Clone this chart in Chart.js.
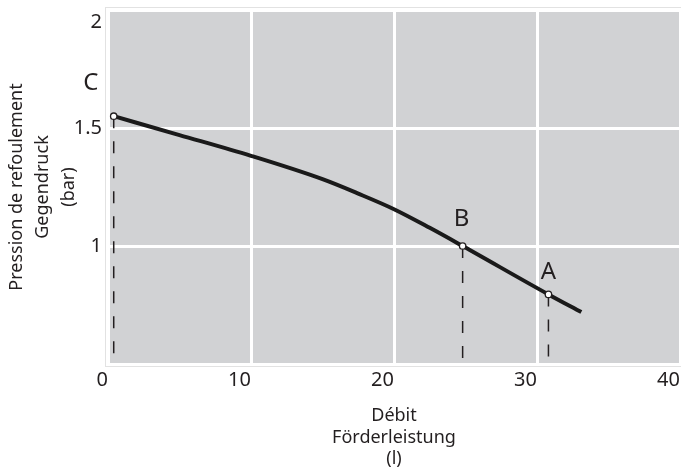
<!DOCTYPE html>
<html>
<head>
<meta charset="utf-8">
<script src="https://cdn.jsdelivr.net/npm/chart.js@4/dist/chart.umd.min.js"></script>
<style>
  html, body { margin: 0; padding: 0; background: #ffffff; }
  #wrap { width: 681px; height: 470px; position: relative; }
</style>
</head>
<body>
<div id="wrap"><canvas id="c" width="681" height="470"></canvas></div>
<script>
// ---- data ----
const flow = [0.4, 5, 10, 15, 17.5, 20, 22.5, 24.8, 30.8, 33.1];
const pressure = [1.55, 1.47, 1.382, 1.283, 1.222, 1.156, 1.077, 1.0, 0.795, 0.72];
const pointNames = ['C', 'B', 'A'];
const pointFlow = [0.4, 24.8, 30.8];
const pointPressure = [1.55, 1.0, 0.795];
const xTicks = [0, 10, 20, 30, 40];
const yTicks = [0.5, 1, 1.5, 2];
const yTickLabels = ['', '1', '1.5', '2'];
const xTitle = ['Débit', 'Förderleistung', '(l)'];
const yTitle = ['Pression de refoulement', 'Gegendruck', '(bar)'];

const FONT = "'Noto Sans', 'DejaVu Sans', sans-serif";
const TXT = '#231f20';

const curveData = flow.map((x, i) => ({ x: x, y: pressure[i] }));
const markerData = pointFlow.map((x, i) => ({ x: x, y: pointPressure[i] }));
const yMin = yTicks[0];

const dropDatasets = pointFlow.map((x, i) => ({
  type: 'line',
  data: [{ x: x, y: pointPressure[i] }, { x: x, y: yMin }],
  borderColor: '#231f20',
  borderWidth: 1.5,
  borderDash: [12, 13],
  pointRadius: 0,
  tension: 0,
  fill: false,
  order: 3
}));

const bgPlugin = {
  id: 'bg',
  beforeDraw(chart) {
    const { ctx, chartArea: a } = chart;
    ctx.save();
    ctx.fillStyle = '#d1d2d4';
    ctx.fillRect(a.left, a.top, a.right - a.left, a.bottom - a.top);
    ctx.strokeStyle = '#e2e2e2';
    ctx.lineWidth = 1;
    ctx.strokeRect(a.left - 2.5, a.top - 2.5, a.right - a.left + 5, a.bottom - a.top + 5);
    ctx.restore();
  }
};

const labelOffsets = [[-23, -33], [-1, -27], [0, -22]];
const letterPlugin = {
  id: 'letters',
  afterDatasetsDraw(chart) {
    const { ctx, scales } = chart;
    ctx.save();
    ctx.font = '24px ' + FONT;
    ctx.fillStyle = TXT;
    ctx.textAlign = 'center';
    ctx.textBaseline = 'middle';
    pointNames.forEach((n, i) => {
      const px = scales.x.getPixelForValue(pointFlow[i]);
      const py = scales.y.getPixelForValue(pointPressure[i]);
      ctx.fillText(n, px + labelOffsets[i][0], py + labelOffsets[i][1]);
    });
    ctx.restore();
  }
};

new Chart(document.getElementById('c'), {
  type: 'scatter',
  data: {
    datasets: [
      {
        type: 'scatter',
        data: markerData,
        pointRadius: 3.2,
        pointBackgroundColor: '#ffffff',
        pointBorderColor: '#231f20',
        pointBorderWidth: 1.3,
        order: 1
      },
      {
        type: 'line',
        data: curveData,
        borderColor: '#1a1a1a',
        borderWidth: 4,
        pointRadius: 0,
        cubicInterpolationMode: 'monotone',
        fill: false,
        order: 2
      },
      ...dropDatasets
    ]
  },
  options: {
    responsive: false,
    animation: false,
    layout: { autoPadding: false, padding: { top: 10, right: 1, left: 0, bottom: 0 } },
    plugins: {
      legend: { display: false },
      tooltip: { enabled: false }
    },
    scales: {
      x: {
        type: 'linear',
        min: xTicks[0],
        max: xTicks[xTicks.length - 1],
        afterBuildTicks: s => { s.ticks = xTicks.map(v => ({ value: v })); },
        afterFit: s => { s.height = 106; s.paddingLeft = 0; s.paddingRight = 0; },
        grid: { color: '#ffffff', lineWidth: 3, drawTicks: false },
        border: { display: false },
        ticks: {
          align: 'end',
          padding: 4,
          color: TXT,
          font: { family: FONT, size: 20 },
          callback: v => String(v)
        },
        title: {
          display: true,
          text: xTitle,
          color: TXT,
          font: { family: FONT, size: 18, lineHeight: 1.2 },
          padding: { top: 18, bottom: 0 }
        }
      },
      y: {
        type: 'linear',
        min: yTicks[0],
        max: yTicks[yTicks.length - 1],
        afterBuildTicks: s => { s.ticks = yTicks.map(v => ({ value: v })); },
        afterFit: s => { s.width = 108; s.paddingTop = 0; s.paddingBottom = 0; },
        grid: { color: '#ffffff', lineWidth: 3, drawTicks: false },
        border: { display: false },
        ticks: {
          padding: 6,
          color: TXT,
          font: { family: FONT, size: 20 },
          callback: (v) => {
            const i = yTicks.indexOf(v);
            const t = i >= 0 ? yTickLabels[i] : '';
            return v === yTicks[yTicks.length - 1] ? ['', t] : t;
          }
        },
        title: {
          display: true,
          text: yTitle,
          color: TXT,
          font: { family: FONT, size: 18, lineHeight: 1.45 },
          padding: { top: 4, bottom: 0 }
        }
      }
    }
  },
  plugins: [bgPlugin, letterPlugin]
});
</script>
</body>
</html>
